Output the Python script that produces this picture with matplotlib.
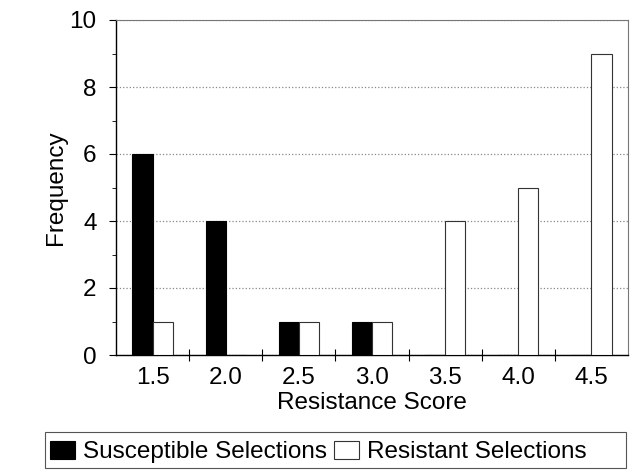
import matplotlib
matplotlib.use("Agg")
import matplotlib.pyplot as plt
from matplotlib.patches import Rectangle

scores = ["1.5", "2.0", "2.5", "3.0", "3.5", "4.0", "4.5"]
susceptible = [6, 4, 1, 1, 0, 0, 0]
resistant = [1, 0, 1, 1, 4, 5, 9]

plt.rcParams['font.family'] = ['Liberation Sans', 'DejaVu Sans']
fs = 17.5

fig = plt.figure(figsize=(6.4, 4.76), dpi=100)
ax = fig.add_axes([116 / 640, 1 - 355 / 476, 512 / 640, 335 / 476])

x = list(range(len(scores)))
w = 0.275
ax.bar([i - w / 2 for i in x], susceptible, width=w, color='black',
       edgecolor='black', linewidth=0.8, label='Susceptible Selections', zorder=3)
ax.bar([i + w / 2 for i in x], resistant, width=w, color='white',
       edgecolor='#333333', linewidth=0.8, label='Resistant Selections', zorder=3)

ax.set_xlim(-0.5, len(scores) - 0.5)
ax.set_ylim(0, 10)

# category boundaries get the tick marks, labels sit in the middle
ax.set_xticks([i + 0.5 for i in x[:-1]])
ax.set_xticklabels([])
ax.set_xticks(x, minor=True)
ax.set_xticklabels(scores, minor=True, fontsize=fs)
ax.tick_params(axis='x', which='major', direction='inout', length=9, width=0.8)
ax.tick_params(axis='x', which='minor', length=0, pad=9)

ax.set_yticks([0, 2, 4, 6, 8, 10])
ax.set_yticks([1, 3, 5, 7, 9], minor=True)
ax.tick_params(axis='y', which='major', direction='out', length=5, width=0.8,
               labelsize=fs, pad=9)
ax.tick_params(axis='y', which='minor', direction='out', length=3, width=0.6)

ax.yaxis.grid(True, which='major', linestyle=':', color='#888888', linewidth=0.9)
ax.set_axisbelow(True)

for s in ['top', 'right']:
    ax.spines[s].set_color('#777777')
    ax.spines[s].set_linewidth(0.8)
for s in ['left', 'bottom']:
    ax.spines[s].set_linewidth(1.0)

ax.set_xlabel('Resistance Score', fontsize=fs, labelpad=2)
ax.set_ylabel('Frequency', fontsize=fs, labelpad=2)

leg = fig.legend(loc='lower left', bbox_to_anchor=(45 / 640, 1 - 468 / 476),
                 ncol=2, frameon=False, fontsize=fs, handlelength=1.05,
                 handleheight=0.75, handletextpad=0.3, columnspacing=0.3,
                 borderpad=0.2, borderaxespad=0)
fig.patches.append(Rectangle((45 / 640, 1 - 468 / 476), 581 / 640, 36 / 476,
                             transform=fig.transFigure, fill=False,
                             edgecolor='#555555', linewidth=0.8))

fig.savefig('out.png', dpi=100)
